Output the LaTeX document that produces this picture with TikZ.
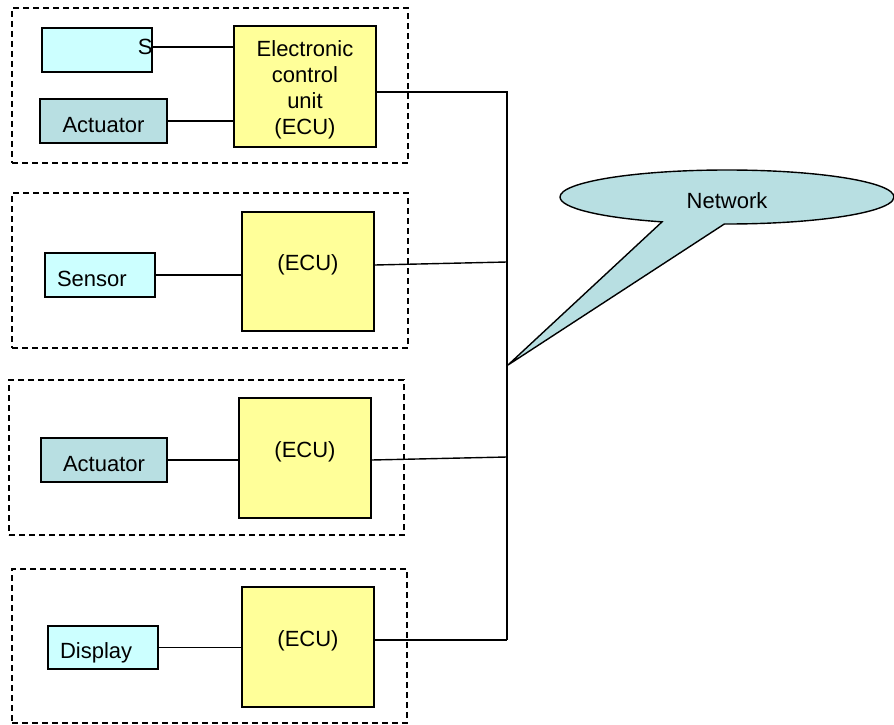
\documentclass[tikz,border=0pt]{standalone}
\usepackage{fontspec}
\setmainfont{Liberation Sans}
\usetikzlibrary{shapes.callouts}
\definecolor{sensorcyan}{HTML}{CCFFFF}
\definecolor{actblue}{HTML}{B8DFE2}
\definecolor{ecuyellow}{HTML}{FFFF99}

\begin{document}
\begin{tikzpicture}[x=1pt, y=-1pt,
        every node/.style={font=\fontsize{22}{26}\selectfont},
        group/.style={draw, dash pattern=on 6pt off 4pt, line width=1.2pt, minimum width=396pt, minimum height=155pt, inner sep=0pt},
        sbox/.style={draw, line width=1.5pt, fill=sensorcyan, minimum width=110pt, minimum height=44pt, inner sep=0pt, text height=22pt, text depth=0pt},
        lbox/.style={sbox, text width=86pt, inner xsep=12pt, align=left},
        abox/.style={draw, line width=1.5pt, fill=actblue, minimum width=127pt, minimum height=44pt, inner sep=0pt, text height=22pt, text depth=0pt},
        ecubox/.style={draw, line width=1.5pt, fill=ecuyellow, minimum width=132pt, minimum height=120pt, inner sep=0pt},
        ecu/.style={ecubox, text height=16pt, text depth=18pt},
        wire/.style={line width=1.4pt}]
        \useasboundingbox (0,0) rectangle (894,725);

        \node (g1) at (210,85.5) [group] {};
        \node (g2) at (210,270.5) [group] {};
        \node (g3) at (206.5,457.5) [group, minimum width=395pt] {};
        \node (g4) at (209.5,646) [group, minimum width=395pt, minimum height=154pt] {};

        \node (s1) at (97,50) [sbox, label={[anchor=east, inner sep=0pt, yshift=3pt]east:S}] {};
        \node (a1) at (103.5,121) [abox] {Actuator};
        \node (e1) at (305,86.5) [ecubox, minimum width=142pt, minimum height=121pt, align=center] {\rule{0pt}{23pt}Electronic\\control\\unit\\(ECU)};
        \draw[wire] ([yshift=3pt]s1.east) -- ([yshift=3pt]s1.east -| e1.west);
        \draw[wire] (a1) -- (a1 -| e1.west);

        \node (s2) at (100,275) [lbox] {Sensor};
        \node (e2) at (308,271.5) [ecu, minimum height=119pt] {(ECU)};
        \draw[wire] (s2) -- (s2 -| e2.west);

        \node (a3) at (104,460) [abox, minimum width=126pt] {Actuator};
        \node (e3) at (305,458) [ecu] {(ECU)};
        \draw[wire] (a3) -- (a3 -| e3.west);

        \node (d4) at (103,647.5) [lbox, minimum height=43pt] {Display};
        \node (e4) at (308,647) [ecu] {(ECU)};
        \draw[wire] (d4) -- (d4 -| e4.west);

        % bus
        \coordinate (b1) at (507,92);
        \coordinate (b2) at (507,262);
        \coordinate (b3) at (507,457);
        \coordinate (b4) at (507,640);
        \draw[wire] ([yshift=-5.5pt]e1.east) -- (b1) -- (b4);
        \draw[wire] ([yshift=6.5pt]e2.east) -- (b2);
        \draw[wire] ([yshift=-2pt]e3.east) -- (b3);
        \draw[wire] ([yshift=7pt]e4.east) -- (b4);

        \coordinate (tip) at (508,365);
        \node (net) at (727,197) [ellipse callout, draw, line width=1.4pt, fill=actblue, minimum width=334pt, minimum height=54pt, inner sep=0pt, text height=22pt, text depth=0pt, callout absolute pointer={(tip)}, callout pointer arc=22] {Network};
\end{tikzpicture}
\end{document}
